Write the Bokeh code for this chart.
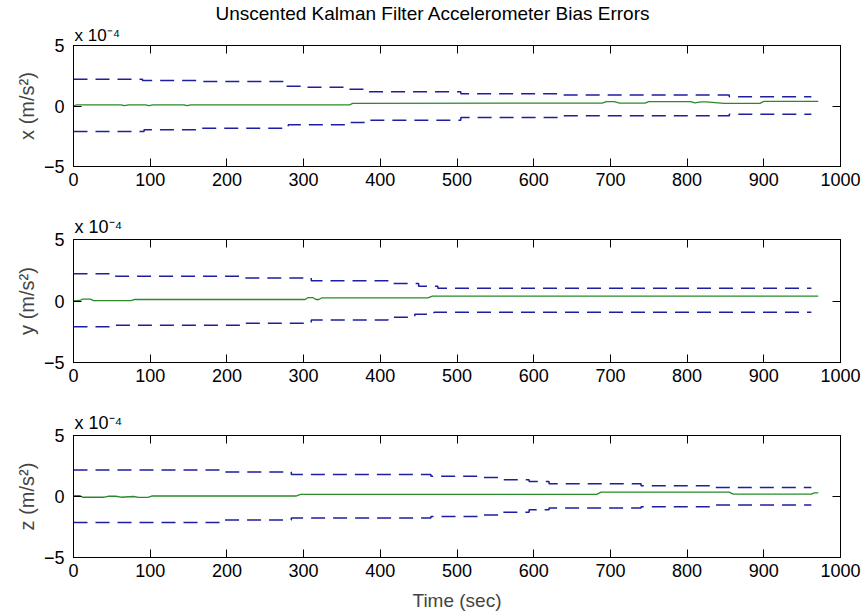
from bokeh.plotting import figure
from bokeh.layouts import column
from bokeh.models import LinearAxis, FixedTicker, Range1d, Title
from bokeh.embed import file_html
from bokeh.resources import INLINE

# ---------------- data (values in units of 1e-4 m/s^2) ----------------
TITLE = "Unscented Kalman Filter Accelerometer Bias Errors"
X_LABEL = "Time (sec)"
Y_LABELS = ["x (m/s\u00b2)", "y (m/s\u00b2)", "z (m/s\u00b2)"]
SCALE_TEXT = "x 10\u207b\u2074"
X_TICKS = [0, 100, 200, 300, 400, 500, 600, 700, 800, 900, 1000]
Y_TICKS = [-5, 0, 5]

# x-axis bias
x_up_t = [0, 90, 160, 275, 297, 358, 385, 505, 636, 855, 962]
x_up = [2.21, 2.10, 2.03, 1.64, 1.55, 1.38, 1.18, 1.02, 0.90, 0.77, 0.77]
x_lo_t = [0, 92, 162, 280, 360, 385, 505, 636, 855, 962]
x_lo = [-2.10, -1.97, -1.83, -1.55, -1.37, -1.18, -0.95, -0.80, -0.68, -0.68]
x_est_t = [0, 4, 62, 66, 72, 94, 98, 104, 144, 148, 153, 360, 364, 690, 695,
           705, 712, 745, 750, 805, 810, 818, 825, 848, 895, 900, 971]
x_est = [0.0, 0.1, 0.1, 0.03, 0.1, 0.1, 0.03, 0.1, 0.1, 0.03, 0.1, 0.1, 0.22, 0.25, 0.36,
         0.36, 0.24, 0.24, 0.36, 0.36, 0.26, 0.34, 0.34, 0.22, 0.22, 0.38, 0.38]

# y-axis bias
y_up_t = [0, 55, 220, 310, 410, 450, 475, 962]
y_up = [2.22, 2.02, 1.88, 1.65, 1.42, 1.20, 1.04, 1.04]
y_lo_t = [0, 55, 220, 310, 410, 445, 470, 962]
y_lo = [-2.10, -1.97, -1.80, -1.55, -1.32, -1.08, -0.92, -0.92]
y_est_t = [0, 8, 12, 22, 26, 75, 79, 302, 306, 312, 316, 320, 324, 462, 468, 971]
y_est = [0.0, 0.04, 0.15, 0.15, 0.03, 0.03, 0.12, 0.12, 0.28, 0.28, 0.12, 0.12, 0.26, 0.26, 0.39, 0.39]

# z-axis bias
z_up_t = [0, 195, 284, 466, 530, 560, 594, 620, 740, 835, 962]
z_up = [2.18, 2.00, 1.80, 1.66, 1.56, 1.38, 1.22, 1.05, 0.89, 0.73, 0.73]
z_lo_t = [0, 195, 284, 466, 530, 560, 594, 620, 740, 835, 962]
z_lo = [-2.13, -1.93, -1.77, -1.64, -1.52, -1.30, -1.08, -0.95, -0.84, -0.70, -0.70]
z_est_t = [0, 3, 8, 12, 40, 45, 55, 62, 78, 85, 97, 102, 290, 296, 682, 688, 855, 860, 962, 966, 971]
z_est = [0.05, 0.07, 0.07, -0.06, -0.06, 0.02, 0.02, -0.06, 0.0, -0.07, -0.07, 0.04, 0.04,
         0.17, 0.17, 0.36, 0.36, 0.20, 0.20, 0.30, 0.30]

# ---------------- style ----------------
FONT = "Liberation Sans"
TICK_FS = "18px"
BLUE = "#1e1ea0"
GREEN = "#2a8a2a"
W = 862
LEFT, RIGHT = 73, 22


def style_axis(ax, ticks, labels=True):
    ax.ticker = FixedTicker(ticks=ticks)
    ax.major_tick_in = 8
    ax.major_tick_out = 0
    ax.minor_tick_line_color = None
    ax.axis_line_color = "black"
    ax.major_tick_line_color = "black"
    if labels:
        ax.major_label_text_font = FONT
        ax.major_label_text_font_size = TICK_FS
        ax.major_label_text_color = "black"
    else:
        ax.major_label_text_font_size = "0px"
        ax.major_label_text_color = None
        ax.major_label_standoff = 0


def panel(up_t, up, lo_t, lo, est_t, est, ylabel, height, bottom, scale_standoff,
          scale_fs, xlabel=None, title=None):
    p = figure(width=W, height=height, x_range=Range1d(0, 1000), y_range=Range1d(-5, 5),
               output_backend="svg", toolbar_location=None,
               min_border_left=LEFT, min_border_right=RIGHT, min_border_top=43,
               min_border_bottom=bottom, background_fill_color="white",
               border_fill_color="white")
    p.xgrid.visible = False
    p.ygrid.visible = False
    p.outline_line_color = "black"
    p.outline_line_width = 1

    style_axis(p.xaxis[0], X_TICKS)
    p.xaxis[0].major_label_standoff = 6
    style_axis(p.yaxis[0], Y_TICKS)
    p.yaxis[0].major_label_standoff = 9
    p.yaxis[0].axis_label = ylabel
    p.yaxis[0].axis_label_text_font = FONT
    p.yaxis[0].axis_label_text_font_size = "20px"
    p.yaxis[0].axis_label_text_font_style = "normal"
    p.yaxis[0].axis_label_standoff = 3
    if xlabel:
        p.xaxis[0].axis_label = xlabel
        p.xaxis[0].axis_label_text_font = FONT
        p.xaxis[0].axis_label_text_font_size = "19px"
        p.xaxis[0].axis_label_text_font_style = "normal"
        p.xaxis[0].axis_label_standoff = 10

    top_ax = LinearAxis()
    style_axis(top_ax, X_TICKS, labels=False)
    p.add_layout(top_ax, "above")
    right_ax = LinearAxis()
    style_axis(right_ax, Y_TICKS, labels=False)
    p.add_layout(right_ax, "right")

    p.add_layout(Title(text=SCALE_TEXT, align="left", offset=1, standoff=scale_standoff,
                       text_font=FONT, text_font_size=scale_fs, text_font_style="normal",
                       text_color="black"), "above")
    if title:
        p.title.text = title
        p.title.align = "left"
        p.title.offset = 142
        p.title.standoff = 0
        p.title.text_font = FONT
        p.title.text_font_size = "19px"
        p.title.text_font_style = "normal"
        p.title.text_color = "black"

    p.step(up_t, up, mode="after", line_color=BLUE, line_width=1.5, line_dash="14 8")
    p.step(lo_t, lo, mode="after", line_color=BLUE, line_width=1.5, line_dash="14 8")
    p.line(est_t, est, line_color=GREEN, line_width=1.3)
    return p


p1 = panel(x_up_t, x_up, x_lo_t, x_lo, x_est_t, x_est, Y_LABELS[0], 196, 30, 1, "17px",
           title=TITLE)
p2 = panel(y_up_t, y_up, y_lo_t, y_lo, y_est_t, y_est, Y_LABELS[1], 196, 30, 6, "18px")
p3 = panel(z_up_t, z_up, z_lo_t, z_lo, z_est_t, z_est, Y_LABELS[2], 224, 59, 6, "18px",
           xlabel=X_LABEL)

layout = column(p1, p2, p3, spacing=0)
open("out.html", "w").write(file_html(layout, INLINE))
